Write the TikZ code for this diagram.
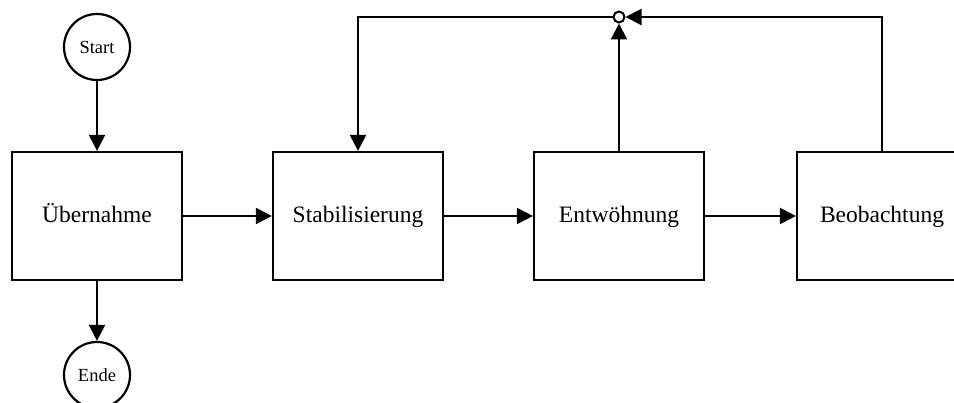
\documentclass[tikz,border=0pt]{standalone}
\usepackage{fontspec}
\setmainfont{Liberation Serif}
\usetikzlibrary{arrows.meta}
\begin{document}
\begin{tikzpicture}[x=1pt,y=-1pt,
  box/.style={draw, line width=2.2pt, minimum width=170pt, minimum height=128pt, inner sep=0pt, text height=19pt, text depth=5pt, font=\fontsize{23.5}{27}\selectfont},
  term/.style={circle, draw, line width=2.2pt, minimum size=66pt, inner sep=0pt, font=\fontsize{18.5}{22}\selectfont},
  conn/.style={line width=2.2pt, -{Triangle[length=16pt,width=16pt]}},
  junc/.style={circle, draw, fill=white, line width=2pt, minimum size=11pt, inner sep=0pt}]
\useasboundingbox (0,0) rectangle (954,403);
\clip (0,0) rectangle (954,403);
\node[term] (start) at (97,47) {Start};
\node[box] (ueb) at (97,216) {Übernahme};
\node[term] (ende) at (97,375) {Ende};
\node[box] (stab) at (358,216) {Stabilisierung};
\node[box] (ent) at (619,216) {Entwöhnung};
\node[box] (beo) at (882,216) {Beobachtung};
\node[junc] (j) at (619,17) {};
\draw[conn] (start) -- (ueb);
\draw[conn] (ueb) -- (ende);
\draw[conn] (ueb) -- (stab);
\draw[conn] (stab) -- (ent);
\draw[conn] (ent) -- (beo);
\draw[conn] (beo.north) |- (j.east);
\draw[conn] (ent.north) -- (j.south);
\draw[conn] (j.west) -| (stab.north);
\end{tikzpicture}
\end{document}
